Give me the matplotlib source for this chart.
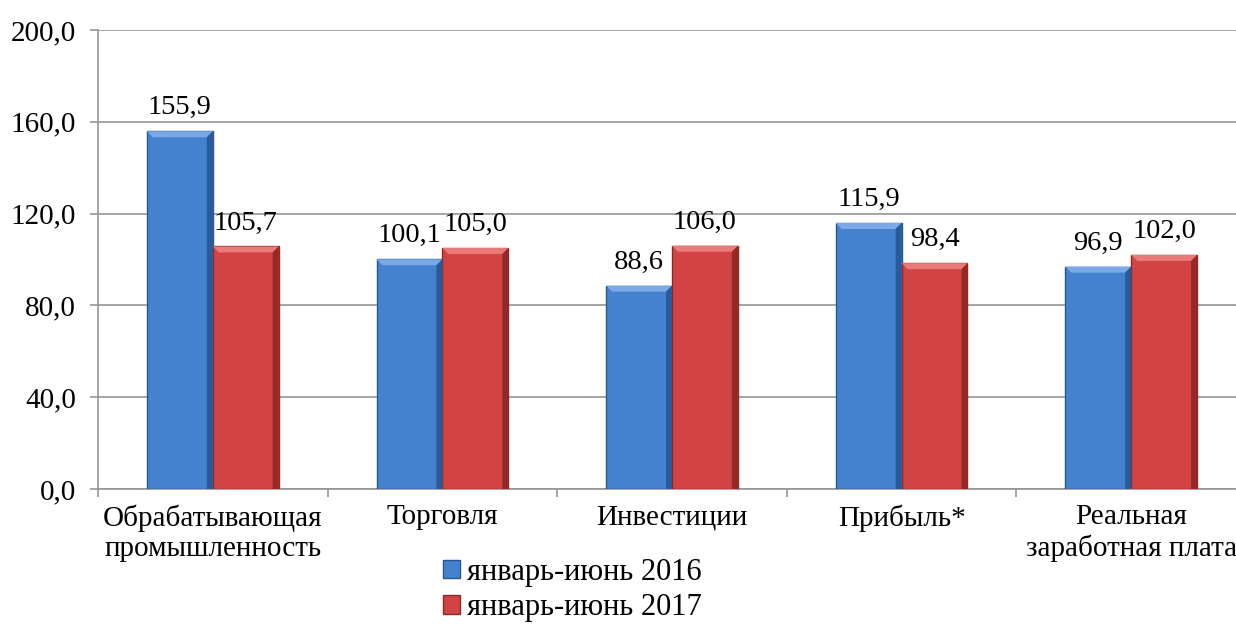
import matplotlib
matplotlib.use("Agg")
import matplotlib.pyplot as plt
import numpy as np
from matplotlib.patches import Patch, Polygon

categories = ["Обрабатывающая\nпромышленность", "Торговля", "Инвестиции", "Прибыль*", "Реальная\nзаработная плата"]
series_2016 = [155.9, 100.1, 88.6, 115.9, 96.9]
series_2017 = [105.7, 105.0, 106.0, 98.4, 102.0]
labels = ["январь-июнь 2016", "январь-июнь 2017"]
yticks = [0, 40, 80, 120, 160, 200]

plt.rcParams['font.family'] = ['Liberation Serif', 'DejaVu Serif']
fs_tick = 21
fs_cat = 21
fs_val = 20.5
fs_leg = 22

fig = plt.figure(figsize=(12.36, 6.24), dpi=100)
W, H = 1236, 624
ax = fig.add_axes([98 / W, 1 - 489 / H, 1148 / W, 459 / H])

x = np.arange(len(categories))
bw = 0.287
styles = [
    dict(face="#4482cf", light="#7aaae6", dark="#2a5a98", edge="#2a5690"),
    dict(face="#d24343", light="#ea7a7a", dark="#962828", edge="#8c2a2a"),
]

def fmt(v):
    return f"{v:.1f}".replace(".", ",")

bx = 6 / 229.6          # bevel width in data units (x)
by = 6 * 200 / 459      # bevel width in data units (y)
for off, vals, st in ((-bw / 2, series_2016, styles[0]), (bw / 2, series_2017, styles[1])):
    bars = ax.bar(x + off, vals, bw, color=st["face"], edgecolor=st["edge"], linewidth=1.0, zorder=3)
    for r, v in zip(bars, vals):
        x0, x1 = r.get_x(), r.get_x() + r.get_width()
        top = r.get_height()
        ax.add_patch(Polygon([(x0, top), (x1, top), (x1 - bx, top - by), (x0 + bx, top - by)],
                             closed=True, facecolor=st["light"], edgecolor="none", zorder=4))
        ax.add_patch(Polygon([(x1, 0), (x1, top), (x1 - bx, top - by), (x1 - bx, 0)],
                             closed=True, facecolor=st["dark"], edgecolor="none", zorder=4))
        ax.annotate(fmt(v), (r.get_x() + r.get_width() / 2, v), xytext=(0, 12.2),
                    textcoords="offset points", ha="center", va="baseline", fontsize=fs_val)

ax.set_xlim(-0.5, len(categories) - 0.5)
ax.set_ylim(0, 200)
ax.set_yticks(yticks)
ax.set_yticklabels([fmt(v) for v in yticks], fontsize=fs_tick)
ax.yaxis.grid(True, color="#969696", linewidth=1.2, zorder=0)
ax.set_xticks(x)
ax.set_xticklabels(categories, fontsize=fs_cat, linespacing=1.2)
ax.tick_params(axis="x", length=0, pad=11)
ax.set_xticks(np.arange(-0.5, len(categories), 1), minor=True)
ax.tick_params(axis="x", which="minor", length=6, color="#969696", width=1.2)
ax.tick_params(axis="y", length=6, color="#969696", width=1.2, pad=10)
for s in ("top", "right"):
    ax.spines[s].set_visible(False)
for s in ("left", "bottom"):
    ax.spines[s].set_color("#969696")
    ax.spines[s].set_linewidth(1.2)

handles = [Patch(facecolor=styles[0]["face"], edgecolor=styles[0]["edge"]),
           Patch(facecolor=styles[1]["face"], edgecolor=styles[1]["edge"])]
fig.legend(handles, labels, loc="upper left", bbox_to_anchor=(443 / W, 1 - 558 / H),
           frameon=False, fontsize=fs_leg, handlelength=0.55, handleheight=0.55,
           handletextpad=0.25, labelspacing=0.2, borderpad=0, borderaxespad=0)

fig.savefig("out.png", dpi=100)
